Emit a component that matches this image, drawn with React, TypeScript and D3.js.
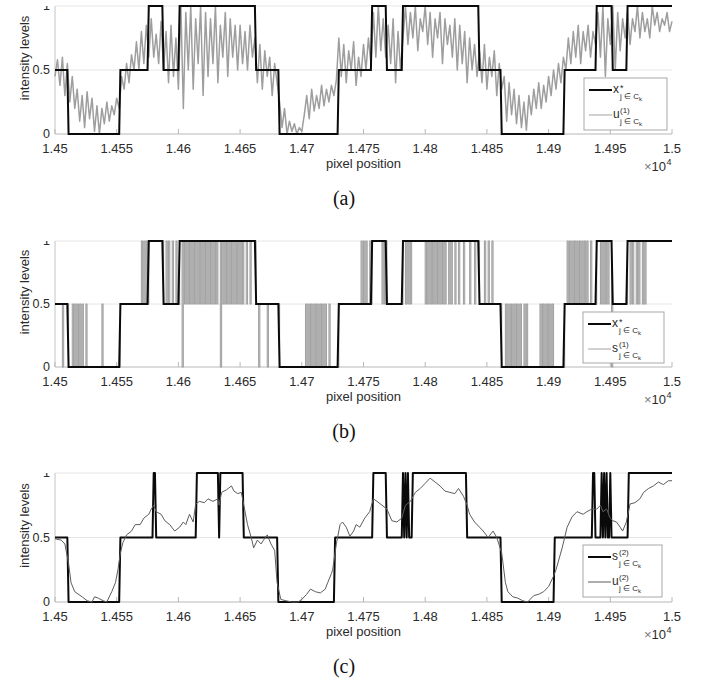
import React from 'react';
import * as d3 from 'd3';

// ---------- axis ticks ----------
const X_TICKS = [14500, 14550, 14600, 14650, 14700, 14750, 14800, 14850, 14900, 14950, 15000];
const X_TICK_LABELS = ['1.45', '1.455', '1.46', '1.465', '1.47', '1.475', '1.48', '1.485', '1.49', '1.495', '1.5'];
const Y_TICKS = [0, 0.5, 1];
const Y_TICK_LABELS = ['0', '0.5', '1'];

// ---------- ground truth x* : [start position, level] ----------
const xStarSteps: [number, number][] = [
  [14500, 0.5], [14511, 0], [14553, 0.5], [14576, 1], [14588, 0.5], [14601, 1],
  [14663, 0.5], [14682, 0], [14730, 0.5], [14757, 1], [14769, 0.5], [14782, 1],
  [14844, 0.5], [14862, 0], [14913, 0.5], [14939, 1], [14952, 0.5], [14964, 1],
];

// ---------- s^(2) : [start position, level] ----------
const s2Steps: [number, number][] = [
  [14500, 0.5], [14511, 0], [14553, 0.5], [14580, 1], [14582, 0.5], [14615, 1],
  [14633, 0.5], [14634, 1], [14653, 0.5], [14681, 0], [14727, 0.5], [14758, 1],
  [14769, 0.5], [14782, 1], [14783, 0.5], [14784, 1], [14785, 0.5], [14786, 1],
  [14787, 0.5], [14790, 1], [14834, 0.5], [14862, 0], [14905, 0.5], [14936, 1],
  [14938, 0.5], [14943, 1], [14944, 0.5], [14945, 1], [14946, 0.5], [14947, 1],
  [14948, 0.5], [14950, 1], [14951, 0.5], [14965, 1],
];

// ---------- s^(1) : single-sample departures from x* [position, level] ----------
const s1Spikes: [number, number][] = [
  [14506, 0],
  [14514, 0.5], [14516, 0.5], [14518, 0.5], [14520, 0.5], [14522, 0.5], [14525, 0.5],
  [14538, 0.5],
  [14570, 1], [14572, 1], [14574, 1],
  [14590, 1], [14592, 1], [14595, 1], [14598, 1],
  [14603, 0],
  [14605, 0.5], [14607, 0.5], [14609, 0.5], [14611, 0.5], [14613, 0.5], [14615, 0.5], [14617, 0.5],
  [14619, 0.5], [14621, 0.5], [14623, 0.5], [14625, 0.5], [14627, 0.5], [14629, 0.5], [14631, 0.5],
  [14634, 0],
  [14636, 0.5], [14638, 0.5], [14640, 0.5], [14642, 0.5], [14644, 0.5], [14646, 0.5], [14648, 0.5],
  [14650, 0.5], [14652, 0.5], [14655, 0.5], [14658, 0.5],
  [14665, 0], [14672, 0],
  [14703, 0.5], [14705, 0.5], [14707, 0.5], [14709, 0.5], [14711, 0.5], [14713, 0.5], [14715, 0.5],
  [14717, 0.5], [14719, 0.5], [14722, 0.5],
  [14748, 1], [14750, 1], [14752, 1], [14755, 1],
  [14765, 0.5], [14767, 0.5],
  [14784, 0.5], [14786, 0.5], [14788, 0.5],
  [14800, 0.5], [14802, 0.5], [14804, 0.5], [14806, 0.5], [14808, 0.5], [14810, 0.5], [14812, 0.5],
  [14814, 0.5], [14816, 0.5], [14819, 0.5], [14821, 0.5], [14824, 0.5], [14827, 0.5], [14831, 0.5],
  [14836, 0.5], [14840, 0.5],
  [14848, 1], [14851, 1], [14854, 1],
  [14865, 0.5], [14867, 0.5], [14869, 0.5], [14871, 0.5], [14873, 0.5], [14875, 0.5], [14877, 0.5],
  [14880, 0.5], [14882, 0.5],
  [14893, 0.5], [14895, 0.5], [14897, 0.5], [14899, 0.5], [14901, 0.5], [14903, 0.5],
  [14915, 1], [14917, 1], [14919, 1], [14921, 1], [14923, 1], [14925, 1], [14927, 1], [14929, 1],
  [14931, 1], [14934, 1],
  [14942, 0.5], [14944, 0.5], [14946, 0.5], [14948, 0.5],
  [14951, 0],
  [14966, 0.5], [14968, 0.5], [14971, 0.5], [14973, 0.5], [14976, 0.5], [14978, 0.5],
];

// ---------- u^(1) : noisy estimate, one value every 2 pixel positions from 14500 ----------
const u1Start = 14500;
const u1Spacing = 2;
const u1Values = [
  0.45, 0.58, 0.38, 0.6, 0.3, 0.55,
  0.25, 0.45, 0.2, 0.35,
  0.1, 0.3, 0.05, 0.33, 0.12, 0.28, 0.02, 0.22, 0.0,
  0.2, 0.08, 0.25, 0.1, 0.22, 0.15, 0.28, 0.2,
  0.45, 0.35, 0.55, 0.4, 0.62, 0.5,
  0.72, 0.5, 0.8, 0.55, 0.85, 0.6,
  0.9, 0.6, 0.78, 0.55, 0.88, 0.5,
  0.8, 0.4, 0.85, 0.45, 0.75, 0.35,
  1.0, 0.2, 0.95, 0.5, 1.0, 0.35, 0.9, 0.55, 1.0, 0.3, 0.95,
  0.45, 0.9, 0.55, 1.0, 0.4, 0.85, 0.6, 0.95, 0.45, 0.9, 0.6, 0.85, 0.5,
  0.85, 0.55, 0.8, 0.5, 0.85, 0.6, 0.75,
  0.4, 0.7, 0.35, 0.65, 0.45, 0.6, 0.3, 0.55, 0.4,
  0.25, 0.05, 0.2, 0.0, 0.1,
  0.02, 0.08, 0.0, 0.05, 0.02,
  0.15, 0.3, 0.12, 0.35, 0.18, 0.3, 0.2, 0.38, 0.22, 0.35, 0.25, 0.38, 0.3, 0.42,
  0.75, 0.45, 0.7, 0.4, 0.65, 0.5, 0.72, 0.38, 0.6, 0.45, 0.7, 0.5, 0.75, 0.55,
  0.95, 0.6, 1.0, 0.65, 0.9, 0.6,
  0.85, 0.55, 0.9, 0.4, 0.8, 0.5, 0.75,
  1.0, 0.7, 0.95, 0.75, 1.0, 0.65, 0.9, 0.8, 1.0, 0.7, 0.95, 0.6, 0.9, 0.75, 0.95, 0.55, 0.9, 0.7, 0.85,
  0.6, 0.9, 0.5, 0.85, 0.55, 0.8, 0.4, 0.75, 0.5, 0.7, 0.45, 0.65,
  0.4, 0.7, 0.35, 0.6, 0.45, 0.65, 0.3, 0.55, 0.35,
  0.45, 0.1, 0.4, 0.15, 0.35, 0.08, 0.3, 0.05, 0.25, 0.03,
  0.3, 0.15, 0.35, 0.2, 0.4, 0.2, 0.38, 0.25, 0.45, 0.3, 0.5, 0.35, 0.55, 0.4, 0.6,
  0.5, 0.75, 0.55, 0.8, 0.6, 0.85, 0.55, 0.8, 0.65, 0.85, 0.6, 0.8, 0.7,
  0.95, 0.6, 1.0, 0.45, 0.9, 0.7, 1.0, 0.5, 0.95, 0.65, 0.9, 0.75,
  0.95, 0.7, 0.9, 0.8, 1.0, 0.75, 0.95, 0.8, 0.9, 0.75, 1.0, 0.85, 0.95, 0.8, 0.9, 0.85, 0.95, 0.8, 0.88,
];

// ---------- u^(2) : smoothed estimate ----------
const u2Pos = [
  14500, 14505, 14508, 14511, 14513, 14516, 14522, 14526, 14530, 14532, 14535, 14539, 14542, 14546, 14549,
  14551, 14553, 14555, 14558, 14562, 14565, 14569, 14572, 14576, 14578, 14580, 14582, 14586, 14589, 14593,
  14597, 14601, 14604, 14606, 14609, 14612, 14614, 14617, 14621, 14624, 14628, 14632, 14633, 14635, 14639,
  14643, 14645, 14648, 14651, 14653, 14656, 14659, 14661, 14664, 14667, 14669, 14672, 14675, 14678, 14680,
  14683, 14687, 14692, 14697, 14700, 14704, 14707, 14711, 14715, 14719, 14721, 14724, 14725, 14728, 14731,
  14733, 14736, 14739, 14742, 14744, 14747, 14751, 14755, 14758, 14761, 14765, 14769, 14773, 14777, 14781,
  14784, 14788, 14792, 14796, 14800, 14804, 14808, 14812, 14816, 14820, 14824, 14827, 14831, 14834, 14836,
  14840, 14844, 14847, 14851, 14855, 14858, 14862, 14865, 14867, 14871, 14875, 14879, 14883, 14888, 14892,
  14896, 14900, 14904, 14906, 14911, 14915, 14919, 14923, 14928, 14931, 14935, 14939, 14942, 14944, 14947,
  14950, 14952, 14955, 14958, 14960, 14963, 14966, 14970, 14974, 14977, 14981, 14985, 14989, 14993, 14997,
  15000,
];
const u2Val = [
  0.49, 0.48, 0.45, 0.3, 0.15, 0.08, 0.04, 0.01, 0.0, 0.04, 0.03, 0.01, 0.0, 0.08, 0.15,
  0.25, 0.38, 0.46, 0.52, 0.55, 0.6, 0.6, 0.65, 0.68, 0.72, 0.75, 0.7, 0.68, 0.63, 0.6,
  0.55, 0.58, 0.62, 0.6, 0.68, 0.62, 0.76, 0.78, 0.77, 0.8, 0.78, 0.8, 0.75, 0.85, 0.87,
  0.9, 0.86, 0.84, 0.85, 0.75, 0.6, 0.5, 0.42, 0.48, 0.45, 0.48, 0.52, 0.45, 0.4, 0.15,
  0.02, 0.01, 0.0, 0.0, 0.02, 0.06, 0.1, 0.08, 0.07, 0.1, 0.15, 0.22, 0.25, 0.45, 0.6,
  0.62, 0.58, 0.51, 0.55, 0.6, 0.58, 0.65, 0.7, 0.8, 0.78, 0.75, 0.72, 0.63, 0.62, 0.65,
  0.75, 0.78, 0.85, 0.88, 0.92, 0.96, 0.93, 0.9, 0.86, 0.85, 0.84, 0.88, 0.82, 0.75, 0.68,
  0.62, 0.58, 0.55, 0.5, 0.55, 0.5, 0.38, 0.15, 0.08, 0.04, 0.03, 0.01, 0.0, 0.05, 0.06,
  0.08, 0.12, 0.2, 0.25, 0.42, 0.58, 0.66, 0.7, 0.68, 0.7, 0.72, 0.72, 0.75, 0.7, 0.72,
  0.65, 0.63, 0.62, 0.58, 0.55, 0.62, 0.76, 0.77, 0.8, 0.85, 0.88, 0.9, 0.93, 0.91, 0.94,
  0.94,
];

// ---------- helpers ----------
const X_MIN = 14500;
const X_MAX = 15000;

function expandSteps(steps: [number, number][], spikes: [number, number][] = []): [number, number][] {
  const pts: [number, number][] = [];
  for (let v = X_MIN; v <= X_MAX; v++) {
    let lvl = steps[0][1];
    for (const [s, l] of steps) if (s <= v) lvl = l;
    pts.push([v, lvl]);
  }
  spikes.forEach(([p, l]) => {
    const i = p - X_MIN;
    if (i >= 0 && i < pts.length) pts[i] = [p, l];
  });
  return pts;
}

const xStarPts = expandSteps(xStarSteps);
const s1Pts = expandSteps(xStarSteps, s1Spikes);
const s2Pts = expandSteps(s2Steps);
const u1Pts: [number, number][] = u1Values.map((v, i) => [u1Start + i * u1Spacing, v]);
const u2Pts: [number, number][] = u2Pos.map((p, i) => [p, u2Val[i]]);

const FONT = '"Liberation Sans", Arial, Helvetica, sans-serif';
const SERIF = '"Liberation Serif", "Times New Roman", serif';
const TXT = '#2b2b2b';

type Series = { pts: [number, number][]; color: string; width: number; step?: boolean };
type LegendEntry = { main: string; sup: string; supIsStar: boolean; color: string; width: number };

type PanelCfg = {
  id: string;
  yTop: number;
  yBot: number;
  caption: string;
  back: Series;
  front: Series;
  legend: { x: number; y: number; w: number; h: number; entries: LegendEntry[] };
};

const X0 = 55;
const X1 = 672;

function Panel({ cfg }: { cfg: PanelCfg }) {
  const x = d3.scaleLinear().domain([X_MIN, X_MAX]).range([X0, X1]);
  const y = d3.scaleLinear().domain([0, 1]).range([cfg.yBot, cfg.yTop]);
  const mkLine = (step?: boolean) =>
    d3
      .line<[number, number]>()
      .x((d) => x(d[0]))
      .y((d) => y(d[1]))
      .curve(step ? d3.curveStepAfter : d3.curveLinear);
  const { legend } = cfg;
  const midY = (cfg.yTop + cfg.yBot) / 2 - 12;
  return (
    <g>
      <defs>
        <clipPath id={`clip1-${cfg.id}`}>
          <rect x={30} y={cfg.yTop} width={24} height={6} />
        </clipPath>
      </defs>
      {/* grid lines */}
      {Y_TICKS.map((t) => (
        <line key={t} x1={X0} x2={X1} y1={y(t)} y2={y(t)} stroke="#e6e6e6" strokeWidth={1} />
      ))}
      {/* axes */}
      <line x1={X0} x2={X0} y1={cfg.yTop} y2={cfg.yBot} stroke="#c4c4c4" strokeWidth={1} />
      <line x1={X0} x2={X1} y1={cfg.yBot} y2={cfg.yBot} stroke="#c4c4c4" strokeWidth={1} />
      {X_TICKS.map((t) => (
        <line key={t} x1={x(t)} x2={x(t)} y1={cfg.yBot} y2={cfg.yBot - 5} stroke="#b8b8b8" strokeWidth={1} />
      ))}
      {/* series */}
      <path
        d={mkLine(cfg.back.step)(cfg.back.pts) || ''}
        fill="none"
        stroke={cfg.back.color}
        strokeWidth={cfg.back.width}
        strokeLinejoin="round"
      />
      <path
        d={mkLine(cfg.front.step)(cfg.front.pts) || ''}
        fill="none"
        stroke={cfg.front.color}
        strokeWidth={cfg.front.width}
        strokeLinejoin="miter"
      />
      {/* tick labels */}
      {X_TICKS.map((t, i) => (
        <text key={t} x={x(t)} y={cfg.yBot + 18.5} textAnchor="middle" fontFamily={FONT} fontSize={13} fill={TXT}>
          {X_TICK_LABELS[i]}
        </text>
      ))}
      {Y_TICKS.map((t, i) => (
        <text
          key={t}
          x={50}
          y={y(t) + 4}
          textAnchor="end"
          fontFamily={FONT}
          fontSize={12.5}
          fill={TXT}
          clipPath={t === 1 ? `url(#clip1-${cfg.id})` : undefined}
        >
          {Y_TICK_LABELS[i]}
        </text>
      ))}
      {/* axis labels */}
      <text x={(X0 + X1) / 2} y={cfg.yBot + 33.5} textAnchor="middle" fontFamily={FONT} fontSize={13} fill={TXT}>
        pixel position
      </text>
      <text
        transform={`translate(29,${midY}) rotate(-90)`}
        textAnchor="middle"
        fontFamily={FONT}
        fontSize={13}
        fill={TXT}
      >
        intensity levels
      </text>
      <text x={666} y={cfg.yBot + 37} textAnchor="end" fontFamily={FONT} fontSize={13} fill={TXT}>
        <tspan fill="#777">×</tspan>10
      </text>
      <text x={666.5} y={cfg.yBot + 30.5} fontFamily={FONT} fontSize={9} fill={TXT}>
        4
      </text>
      {/* caption */}
      <text x={344} y={cfg.yBot + 71} textAnchor="middle" fontFamily={SERIF} fontSize={20} fill="#111">
        {cfg.caption}
      </text>
      {/* legend */}
      <rect x={legend.x} y={legend.y} width={legend.w} height={legend.h} fill="#fff" stroke="#a8a8a8" strokeWidth={1} />
      {legend.entries.map((e, i) => {
        const ly = legend.y + 12 + i * 25;
        return (
          <g key={i}>
            <line x1={legend.x + 5} x2={legend.x + 28} y1={ly} y2={ly} stroke={e.color} strokeWidth={e.width} />
            <text x={legend.x + 29} y={ly + 3} fontFamily={FONT} fontSize={12} fill={TXT}>
              {e.main}
            </text>
            <text
              x={legend.x + 36}
              y={e.supIsStar ? ly + 1 : ly - 2}
              fontFamily={FONT}
              fontSize={e.supIsStar ? 9 : 8}
              fill={TXT}
            >
              {e.sup}
            </text>
            <text x={legend.x + 36} y={ly + 9} fontFamily={FONT} fontSize={8} fill={TXT}>
              j ∈ C
              <tspan fontSize={6} dy={2}>
                k
              </tspan>
            </text>
          </g>
        );
      })}
    </g>
  );
}

const BLACK = '#0a0a0a';

const panels: PanelCfg[] = [
  {
    id: 'a',
    yTop: 6,
    yBot: 134,
    caption: '(a)',
    back: { pts: u1Pts, color: '#9e9e9e', width: 1.5 },
    front: { pts: xStarPts, color: BLACK, width: 2 },
    legend: {
      x: 584,
      y: 78,
      w: 83,
      h: 52,
      entries: [
        { main: 'x', sup: '*', supIsStar: true, color: BLACK, width: 2 },
        { main: 'u', sup: '(1)', supIsStar: false, color: '#a3a3a3', width: 1 },
      ],
    },
  },
  {
    id: 'b',
    yTop: 241,
    yBot: 367,
    caption: '(b)',
    back: { pts: s1Pts, color: '#a3a3a3', width: 1.1, step: true },
    front: { pts: xStarPts, color: BLACK, width: 2 },
    legend: {
      x: 583,
      y: 312,
      w: 81,
      h: 51,
      entries: [
        { main: 'x', sup: '*', supIsStar: true, color: BLACK, width: 2 },
        { main: 's', sup: '(1)', supIsStar: false, color: '#a3a3a3', width: 1 },
      ],
    },
  },
  {
    id: 'c',
    yTop: 473,
    yBot: 602,
    caption: '(c)',
    back: { pts: s2Pts, color: BLACK, width: 2 },
    front: { pts: u2Pts, color: '#5c5c5c', width: 1 },
    legend: {
      x: 583,
      y: 545,
      w: 79,
      h: 52,
      entries: [
        { main: 's', sup: '(2)', supIsStar: false, color: BLACK, width: 2 },
        { main: 'u', sup: '(2)', supIsStar: false, color: '#5c5c5c', width: 1 },
      ],
    },
  },
];

export default function App() {
  return (
    <svg
      width={708}
      height={683}
      viewBox="0 0 708 683"
      style={{ position: 'absolute', left: 0, top: 0, background: '#fff' }}
    >
      <rect x={0} y={0} width={708} height={683} fill="#fff" />
      {panels.map((p) => (
        <Panel key={p.id} cfg={p} />
      ))}
    </svg>
  );
}
